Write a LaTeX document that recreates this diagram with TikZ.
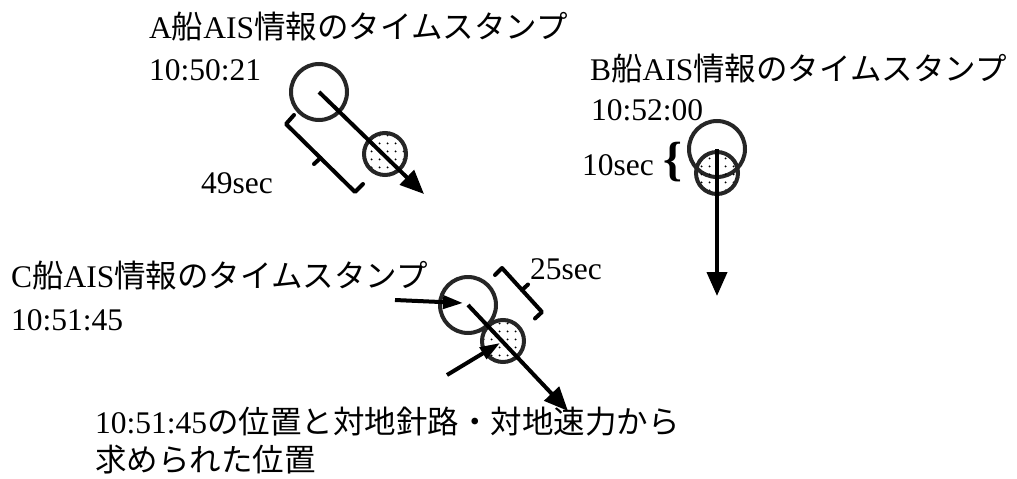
\documentclass[tikz,border=0pt]{standalone}
\usepackage{fontspec}
\setmainfont{Liberation Serif}
\newfontfamily\jp{Noto Sans CJK JP}
\usetikzlibrary{arrows.meta,patterns.meta}
\tikzdeclarepattern{
  name=sparsedots,
  type=uncolored,
  bounding box={(0pt,0pt) and (7.5pt,7.5pt)},
  tile size={(7.5pt,7.5pt)},
  code={\pgfpathcircle{\pgfpoint{3.75pt}{3.75pt}}{1.1pt}\pgfusepath{fill}}
}
\tikzset{
  txt/.style={anchor=base west, inner sep=0pt, font=\fontsize{31.5}{40}\selectfont},
  ship/.style={circle, draw=black!85, line width=4pt, minimum size=56pt, inner sep=0pt},
  pred/.style={circle, draw=black!85, line width=4pt, minimum size=42pt, inner sep=0pt, pattern=sparsedots, pattern color=black},
  bigarrow/.style={line width=4pt, -{Triangle[length=24pt,width=20pt]}},
  smallarrow/.style={line width=4pt, -{Triangle[length=20pt,width=13pt]}},
  bracket/.style={line width=4pt, line join=round, line cap=round},
}
\begin{document}
\begin{tikzpicture}[x=1pt,y=-1pt]
\useasboundingbox (0,0) rectangle (1017,479);
% ---- texts
\node[txt] (atitle) at (149,38) {A{\jp 船}AIS{\jp 情報のタイムスタンプ}};
\node[txt] (atime) at (149,80) {10:50:21};
\node[txt] (btitle) at (590,80) {B{\jp 船}AIS{\jp 情報のタイムスタンプ}};
\node[txt] (btime) at (591,120) {10:52:00};
\node[txt] (ctitle) at (11,287) {C{\jp 船}AIS{\jp 情報のタイムスタンプ}};
\node[txt] (ctime) at (11,330) {10:51:45};
\node[txt] (bot1) at (95,433) {10:51:45{\jp の位置と対地針路・対地速力から}};
\node[txt] (bot2) at (95,471) {\jp 求められた位置};
\node[txt] (s49) at (201,193) {49sec};
\node[txt] (s10) at (582,175) {10sec};
\node[txt] (s25) at (530,279) {25sec};
\node[anchor=center, inner sep=0pt, font=\fontsize{48}{48}\selectfont\bfseries] (brace) at (673,162) {\{};
% ---- ship A
\node[ship] (ca) at (319,92) {};
\node[pred] (pa) at (385,154) {};
\coordinate (aend) at (424,194);
\draw[bigarrow] (ca.center) -- (aend);
\draw[bracket] (294,115) -- (286,124) -- (355,192) -- (363,184);
\draw[bracket] (320.5,158) -- (314,164);
% ---- ship B
\node[ship] (cb) at (717,149) {};
\node[pred] (pb) at (717,173) {};
\coordinate (bend) at (717,296);
\draw[bigarrow] (cb.center) -- (bend);
% ---- ship C
\node[ship] (cc) at (468,305) {};
\node[pred] (pc) at (503,341) {};
\coordinate (cend) at (568,411);
\draw[bigarrow] (cc.center) -- (cend);
\coordinate (cin) at (395,300);
\coordinate (cinend) at (463,303);
\draw[smallarrow] (cin) -- (cinend);
\coordinate (pin) at (447,375);
\coordinate (pinend) at (500,343);
\draw[smallarrow] (pin) -- (pinend);
\draw[bracket] (495,275) -- (502,268) -- (542,312) -- (535,318.5);
\draw[bracket] (522,290) -- (528,284.5);
\end{tikzpicture}
\end{document}
